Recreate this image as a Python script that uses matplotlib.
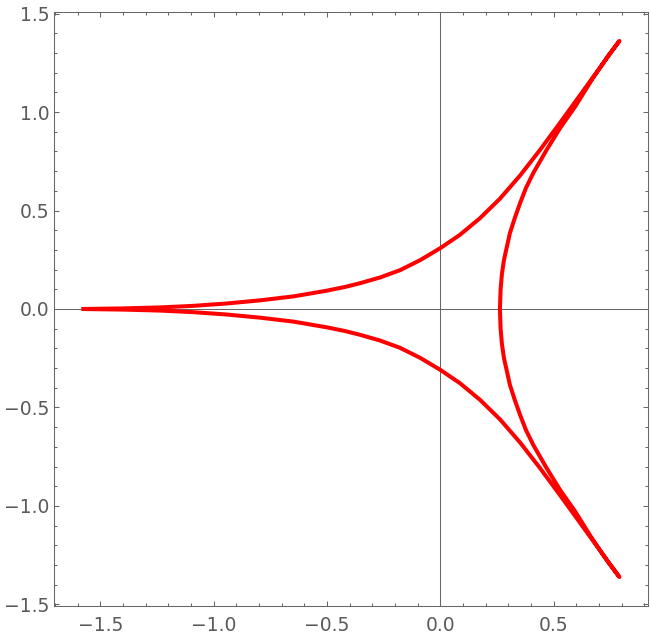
import numpy as np
import matplotlib
matplotlib.use("Agg")
import matplotlib.pyplot as plt
from matplotlib.ticker import MultipleLocator

# upper branch (left tail -> top cusp)
upper_x = [-1.582, -1.40, -1.236, -1.09, -0.942, -0.795, -0.648, -0.501,
           -0.420, -0.354, -0.266, -0.178, -0.089, 0.000, 0.087, 0.175,
           0.263, 0.352, 0.440, 0.528, 0.616, 0.704, 0.790]
upper_y = [0.000, 0.003, 0.008, 0.016, 0.028, 0.044, 0.064, 0.093,
           0.112, 0.131, 0.160, 0.197, 0.248, 0.309, 0.377, 0.461,
           0.560, 0.678, 0.808, 0.945, 1.085, 1.225, 1.361]

# right loop (top cusp -> vertex -> bottom cusp)
loop_x = [0.790, 0.738, 0.668, 0.595, 0.528, 0.469, 0.410, 0.378, 0.352,
          0.328, 0.307, 0.281, 0.272, 0.266, 0.263, 0.266, 0.272, 0.281,
          0.307, 0.328, 0.352, 0.378, 0.410, 0.469, 0.528, 0.595, 0.668,
          0.738, 0.790]
loop_y = [1.361, 1.282, 1.163, 1.028, 0.918, 0.808, 0.690, 0.615, 0.538,
          0.460, 0.385, 0.250, 0.180, 0.100, 0.000, -0.100, -0.180, -0.250,
          -0.385, -0.460, -0.538, -0.615, -0.690, -0.808, -0.918, -1.028,
          -1.163, -1.282, -1.361]

# lower branch (bottom cusp -> left tail)
lower_x = [0.790, 0.704, 0.616, 0.528, 0.440, 0.352, 0.263, 0.175, 0.087,
           0.000, -0.089, -0.178, -0.266, -0.354, -0.420, -0.501, -0.648,
           -0.795, -0.942, -1.09, -1.236, -1.40, -1.582]
lower_y = [-1.361, -1.225, -1.085, -0.945, -0.808, -0.678, -0.560, -0.461,
           -0.377, -0.309, -0.248, -0.197, -0.160, -0.131, -0.112, -0.093,
           -0.064, -0.044, -0.028, -0.016, -0.008, -0.003, 0.000]

xs = upper_x + loop_x[1:] + lower_x[1:]
ys = upper_y + loop_y[1:] + lower_y[1:]

fig = plt.figure(figsize=(6.5, 6.38), dpi=100)
ax = fig.add_axes([54 / 650, 32 / 638, 594.3 / 650, 594 / 638])

gray = "#666666"
ax.axhline(0, color=gray, lw=0.75, zorder=1)
ax.axvline(0, color=gray, lw=0.75, zorder=1)

ax.plot(xs, ys, color="#ff0000", lw=2.9, solid_joinstyle="round",
        solid_capstyle="butt", zorder=3)

ax.set_xlim(-1.704, 0.9175)
ax.set_ylim(-1.508, 1.508)

ax.xaxis.set_major_locator(MultipleLocator(0.5))
ax.xaxis.set_minor_locator(MultipleLocator(0.1))
ax.yaxis.set_major_locator(MultipleLocator(0.5))
ax.yaxis.set_minor_locator(MultipleLocator(0.1))
ax.xaxis.set_major_formatter(plt.FuncFormatter(lambda v, p: f"{v:.1f}".replace("-", "\u2212")))
ax.yaxis.set_major_formatter(plt.FuncFormatter(lambda v, p: f"{v:.1f}".replace("-", "\u2212")))

ax.tick_params(which="both", direction="in", top=True, right=True,
               color=gray, width=0.75, labelcolor="#5a5a5a", labelsize=13.5)
ax.tick_params(which="major", length=3.6)
ax.tick_params(which="minor", length=2.2)
ax.tick_params(axis="x", pad=7.5)
ax.tick_params(axis="y", pad=3.5)

for s in ax.spines.values():
    s.set_color(gray)
    s.set_linewidth(0.75)

fig.savefig("out.png", dpi=100)
